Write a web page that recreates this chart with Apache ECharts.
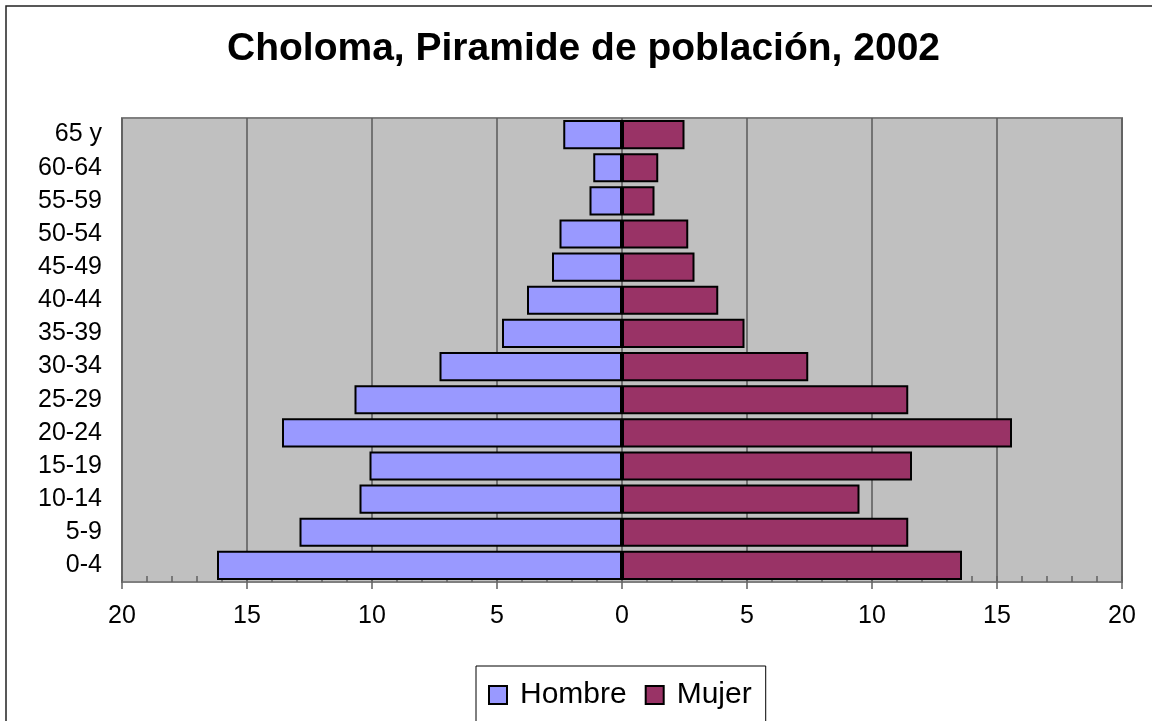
<!DOCTYPE html>
<html>
<head>
<meta charset="utf-8">
<script src="https://cdn.jsdelivr.net/npm/echarts@6/dist/echarts.min.js"></script>
<style>
    html, body { margin: 0; padding: 0; background: #fff; }
    #piramide { width: 1152px; height: 721px; }
</style>
</head>
<body>
<div id="piramide"></div>
<script>
// grupos de edad, de abajo hacia arriba
const grupos = ['0-4', '5-9', '10-14', '15-19', '20-24', '25-29', '30-34', '35-39', '40-44', '45-49', '50-54', '55-59', '60-64', '65 y'];
// porcentajes
const hombre = [16.2, 12.9, 10.5, 10.1, 13.6, 10.7, 7.3, 4.8, 3.8, 2.8, 2.5, 1.3, 1.15, 2.35];
const mujer = [13.6, 11.45, 9.5, 11.6, 15.6, 11.45, 7.45, 4.9, 3.85, 2.9, 2.65, 1.3, 1.45, 2.5];
const ticksX = [-20, -15, -10, -5, 0, 5, 10, 15, 20];

let chart = echarts.init(document.getElementById('piramide'));

let option = {
    animation: false,
    backgroundColor: '#fff',
    title: {
        text: 'Choloma, Piramide de población, 2002',
        left: 222,
        top: 25,
        textStyle: {
            fontFamily: 'Liberation Sans',
            fontWeight: 'bold',
            fontSize: 39,
            color: '#000'
        }
    },
    graphic: [{
        type: 'rect',
        shape: { x: 6, y: 6, width: 1300, height: 900 },
        style: { fill: 'none', stroke: '#222', lineWidth: 1.5 },
        silent: true
    }],
    legend: {
        left: 476,
        top: 666,
        orient: 'horizontal',
        padding: [14, 14, 14, 12],
        itemWidth: 18,
        itemHeight: 18,
        itemGap: 18,
        borderColor: '#000',
        borderWidth: 1,
        icon: 'rect',
        textStyle: {
            fontFamily: 'Liberation Sans',
            fontSize: 30,
            color: '#000',
            padding: [0, 0, 0, 8]
        },
        data: ['Hombre', 'Mujer']
    },
    grid: {
        left: 122,
        right: 30,
        top: 118,
        bottom: 139,
        show: true,
        backgroundColor: '#C0C0C0',
        borderColor: '#808080',
        borderWidth: 2
    },
    xAxis: [
        {
            type: 'value',
            min: ticksX[0],
            max: ticksX[ticksX.length - 1],
            interval: 5,
            axisLine: { show: true, onZero: false, lineStyle: { color: '#808080', width: 2 } },
            axisTick: { show: true, inside: false, length: 7, lineStyle: { color: '#606060', width: 1.5 } },
            axisLabel: {
                margin: 22,
                fontFamily: 'Liberation Sans',
                fontSize: 25,
                color: '#000',
                formatter: v => Math.abs(v)
            },
            splitLine: { show: true, lineStyle: { color: '#5a5a5a', width: 1.5 } }
        },
        {
            // marcas menores hacia adentro
            type: 'value',
            min: ticksX[0],
            max: ticksX[ticksX.length - 1],
            interval: 1,
            position: 'bottom',
            axisLine: { show: false },
            axisTick: { show: true, inside: true, length: 6, lineStyle: { color: '#606060', width: 1.5 } },
            axisLabel: { show: false },
            splitLine: { show: false }
        }
    ],
    yAxis: {
        type: 'category',
        data: grupos,
        axisLine: { show: false, onZero: false },
        axisTick: { show: false },
        axisLabel: {
            margin: 20,
            fontFamily: 'Liberation Sans',
            fontSize: 25,
            color: '#000'
        }
    },
    series: [
        {
            name: 'Hombre',
            type: 'bar',
            stack: 'total',
            barCategoryGap: '12%',
            data: hombre.map(v => -v),
            itemStyle: { color: '#9999FF', borderColor: '#000', borderWidth: 2 }
        },
        {
            name: 'Mujer',
            type: 'bar',
            stack: 'total',
            barCategoryGap: '12%',
            data: mujer,
            itemStyle: { color: '#993366', borderColor: '#000', borderWidth: 2 }
        }
    ]
};

chart.setOption(option);
</script>
</body>
</html>
